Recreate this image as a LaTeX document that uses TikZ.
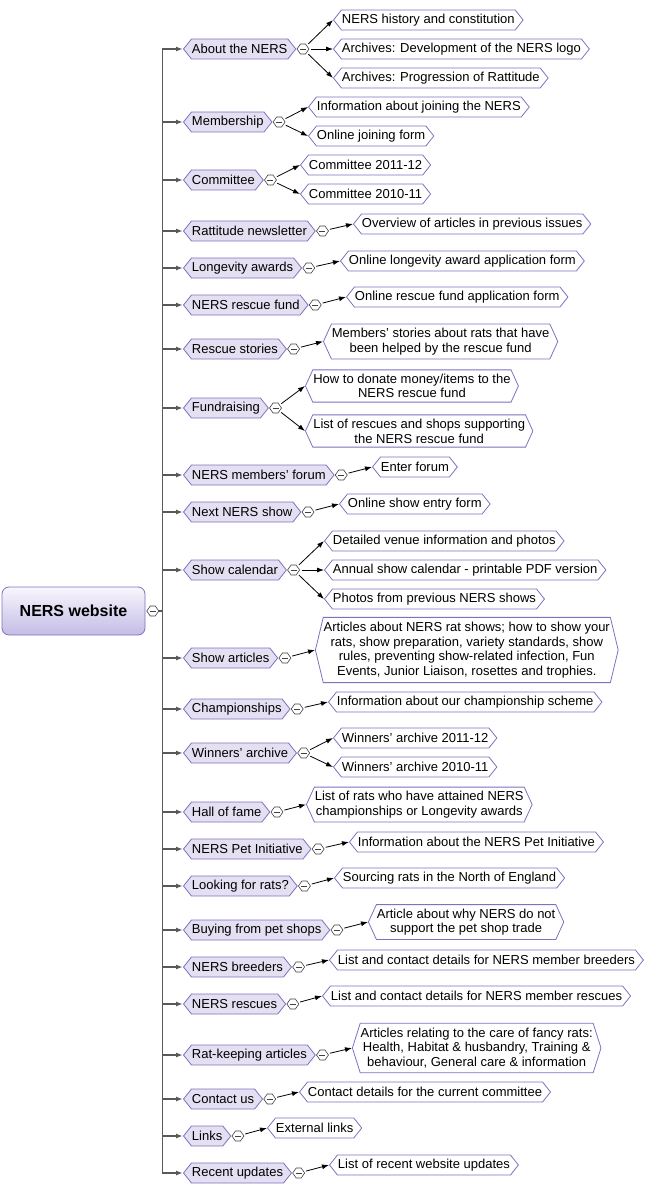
\documentclass[tikz,border=0pt]{standalone}
\usepackage{fontspec}
\setmainfont{Liberation Sans}
\usetikzlibrary{shapes.symbols,positioning,arrows.meta}
\definecolor{nersline}{RGB}{128,112,192}
\definecolor{nersfill}{RGB}{228,224,242}
\definecolor{roottop}{RGB}{248,246,253}
\definecolor{rootbot}{RGB}{196,188,230}

\begin{document}
\begin{tikzpicture}[x=1pt,y=-1pt,>={Latex[length=7pt,width=5pt]},
    topic/.style={signal,signal to=west and east,signal pointer angle=103,
      draw=nersline,fill=nersfill,line width=0.8pt,minimum height=20pt,
      inner xsep=0.5pt,inner ysep=3pt,font=\fontsize{13}{14.7}\selectfont},
    leaf/.style={topic,fill=white,align=center},
    leaftwo/.style={leaf,inner ysep=4pt,signal pointer angle=131},
    leafthree/.style={leaf,inner ysep=4.5pt,signal pointer angle=145},
    leaffour/.style={leaf,inner ysep=4.5pt,signal pointer angle=153},
    root/.style={rectangle,rounded corners=7pt,draw=nersline,line width=0.8pt,
      top color=roottop,bottom color=rootbot,minimum width=143pt,
      minimum height=48pt,font=\fontsize{16}{18}\selectfont\bfseries},
    fold/.style={signal,signal to=west and east,signal pointer angle=110,
      draw=black!75,fill=white,line width=0.6pt,minimum width=12pt,
      minimum height=10pt,inner sep=0pt,
      path picture={\draw[black!75,line width=0.6pt]
        ([xshift=3pt]path picture bounding box.west) --
        ([xshift=-3pt]path picture bounding box.east);}},
    trunkline/.style={->,draw=black!65,line width=1.4pt},
    leafedge/.style={->,shorten <=2pt,line width=0.8pt}]

  \useasboundingbox (0,0) rectangle (650,1193);

  \node[root] (web) at (73.5,611) {NERS website};
  \node[fold, right=1pt of web] (web-f) {};
  \coordinate (trunk) at (162.5,611);

  % main topics on the trunk
  \foreach \n/\y/\t in {about/49/About the NERS, member/122/Membership,
      committee/180/Committee, rattitude/231/Rattitude newsletter,
      longevity/268/Longevity awards, rescuefund/305/NERS rescue fund,
      stories/349/Rescue stories, fundraising/408/Fundraising,
      forum/475/NERS members' forum, nextshow/512/Next NERS show,
      calendar/570/Show calendar, articles/658/Show articles,
      champs/709/Championships, winners/753/Winners' archive,
      hall/812/Hall of fame, pet/849/NERS Pet Initiative,
      looking/886/Looking for rats?, buying/930/Buying from pet shops,
      breeders/967/NERS breeders, rescues/1004/NERS rescues,
      ratkeeping/1055/Rat-keeping articles, contact/1099/Contact us,
      links/1136/Links, updates/1173/Recent updates} {
    \node[topic, anchor=west] (\n) at (183,\y) {\t};
    \node[fold, right=0.3pt of \n] (\n-f) {};
    \draw[trunkline] (web-f) -- (trunk) |- (\n.west);
  }

  % pages under each topic
  \node[leaf, anchor=west] (hist) at (333,20) {NERS history and constitution};
  \node[leaf, anchor=west] (logo) at (333,49) {Archives: Development of the NERS logo};
  \node[leaf, anchor=west] (prog) at (333,78) {Archives: Progression of Rattitude};
  \node[leaf, anchor=west] (join) at (308,107) {Information about joining the NERS};
  \node[leaf, anchor=west] (joinform) at (308,136) {Online joining form};
  \node[leaf, anchor=west] (com12) at (300,165) {Committee 2011-12};
  \node[leaf, anchor=west] (com11) at (300,194) {Committee 2010-11};
  \node[leaf, anchor=west] (overview) at (353,224) {Overview of articles in previous issues};
  \node[leaf, anchor=west] (longform) at (340,261) {Online longevity award application form};
  \node[leaf, anchor=west] (fundform) at (346,297) {Online rescue fund application form};
  \node[leaftwo, anchor=west] (helped) at (323,341.5) {Members' stories about rats that have\\been helped by the rescue fund};
  \node[leaftwo, anchor=west] (donate) at (305,386) {How to donate money/items to the\\NERS rescue fund};
  \node[leaftwo, anchor=west] (shops) at (305,431) {List of rescues and shops supporting\\the NERS rescue fund};
  \node[leaf, anchor=west] (enter) at (372,467) {Enter forum};
  \node[leaf, anchor=west] (entry) at (339,504) {Online show entry form};
  \node[leaf, anchor=west] (venue) at (324,541) {Detailed venue information and photos};
  \node[leaf, anchor=west] (annual) at (324,570) {Annual show calendar - printable PDF version};
  \node[leaf, anchor=west] (photos) at (324,599) {Photos from previous NERS shows};
  \node[leaffour, anchor=west] (showinfo) at (315,650) {Articles about NERS rat shows; how to show your\\rats, show preparation, variety standards, show\\rules, preventing show-related infection, Fun\\Events, Junior Liaison, rosettes and trophies.};
  \node[leaf, anchor=west] (champinfo) at (328,702) {Information about our championship scheme};
  \node[leaf, anchor=west] (win12) at (333,738) {Winners' archive 2011-12};
  \node[leaf, anchor=west] (win11) at (333,767) {Winners' archive 2010-11};
  \node[leaftwo, anchor=west] (hallinfo) at (306,804.5) {List of rats who have attained NERS\\championships or Longevity awards};
  \node[leaf, anchor=west] (petinfo) at (349,842) {Information about the NERS Pet Initiative};
  \node[leaf, anchor=west] (sourcing) at (334,878) {Sourcing rats in the North of England};
  \node[leaftwo, anchor=west] (petshop) at (368,922) {Article about why NERS do not\\support the pet shop trade};
  \node[leaf, anchor=west] (breedlist) at (329,960) {List and contact details for NERS member breeders};
  \node[leaf, anchor=west] (rescuelist) at (322,996) {List and contact details for NERS member rescues};
  \node[leafthree, anchor=west] (care) at (352,1048) {Articles relating to the care of fancy rats:\\Health, Habitat \& husbandry, Training \&\\behaviour, General care \& information};
  \node[leaf, anchor=west] (contactinfo) at (299,1092) {Contact details for the current committee};
  \node[leaf, anchor=west] (ext) at (267,1128) {External links};
  \node[leaf, anchor=west] (updlist) at (329,1165) {List of recent website updates};

  \path[leafedge] (about-f) edge (hist.west) edge (logo.west) edge (prog.west);
  \path[leafedge] (member-f) edge (join.west) edge (joinform.west);
  \path[leafedge] (committee-f) edge (com12.west) edge (com11.west);
  \path[leafedge] (rattitude-f) edge (overview.west);
  \path[leafedge] (longevity-f) edge (longform.west);
  \path[leafedge] (rescuefund-f) edge (fundform.west);
  \path[leafedge] (stories-f) edge (helped.west);
  \path[leafedge] (fundraising-f) edge (donate.west) edge (shops.west);
  \path[leafedge] (forum-f) edge (enter.west);
  \path[leafedge] (nextshow-f) edge (entry.west);
  \path[leafedge] (calendar-f) edge (venue.west) edge (annual.west) edge (photos.west);
  \path[leafedge] (articles-f) edge (showinfo.west);
  \path[leafedge] (champs-f) edge (champinfo.west);
  \path[leafedge] (winners-f) edge (win12.west) edge (win11.west);
  \path[leafedge] (hall-f) edge (hallinfo.west);
  \path[leafedge] (pet-f) edge (petinfo.west);
  \path[leafedge] (looking-f) edge (sourcing.west);
  \path[leafedge] (buying-f) edge (petshop.west);
  \path[leafedge] (breeders-f) edge (breedlist.west);
  \path[leafedge] (rescues-f) edge (rescuelist.west);
  \path[leafedge] (ratkeeping-f) edge (care.west);
  \path[leafedge] (contact-f) edge (contactinfo.west);
  \path[leafedge] (links-f) edge (ext.west);
  \path[leafedge] (updates-f) edge (updlist.west);
\end{tikzpicture}
\end{document}
